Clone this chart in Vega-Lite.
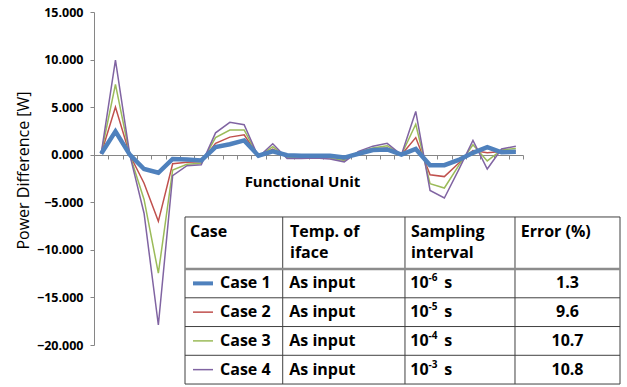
{
  "$schema": "https://vega.github.io/schema/vega-lite/v6.json",
  "autosize": {"type": "none"},
  "width": 429,
  "height": 333,
  "padding": {"left": 94, "top": 12, "right": 104, "bottom": 42},
  "background": "white",
  "config": {"view": {"stroke": null}, "font": "Open Sans"},
  "datasets": {
    "pw": [
      {"u":0,"case":"Case 1","v":0.1},{"u":1,"case":"Case 1","v":2.45},{"u":2,"case":"Case 1","v":0},{"u":3,"case":"Case 1","v":-1.5},{"u":4,"case":"Case 1","v":-1.9},{"u":5,"case":"Case 1","v":-0.45},{"u":6,"case":"Case 1","v":-0.5},{"u":7,"case":"Case 1","v":-0.6},{"u":8,"case":"Case 1","v":0.8},{"u":9,"case":"Case 1","v":1.1},{"u":10,"case":"Case 1","v":1.5},{"u":11,"case":"Case 1","v":-0.1},{"u":12,"case":"Case 1","v":0.35},{"u":13,"case":"Case 1","v":-0.05},{"u":14,"case":"Case 1","v":-0.1},{"u":15,"case":"Case 1","v":-0.1},{"u":16,"case":"Case 1","v":-0.1},{"u":17,"case":"Case 1","v":-0.3},{"u":18,"case":"Case 1","v":0.1},{"u":19,"case":"Case 1","v":0.5},{"u":20,"case":"Case 1","v":0.55},{"u":21,"case":"Case 1","v":0},{"u":22,"case":"Case 1","v":0.6},{"u":23,"case":"Case 1","v":-1.1},{"u":24,"case":"Case 1","v":-1.1},{"u":25,"case":"Case 1","v":-0.55},{"u":26,"case":"Case 1","v":0.2},{"u":27,"case":"Case 1","v":0.8},{"u":28,"case":"Case 1","v":0.25},{"u":29,"case":"Case 1","v":0.3},
      {"u":0,"case":"Case 2","v":0.1},{"u":1,"case":"Case 2","v":5.0},{"u":2,"case":"Case 2","v":0},{"u":3,"case":"Case 2","v":-3.0},{"u":4,"case":"Case 2","v":-7.0},{"u":5,"case":"Case 2","v":-0.95},{"u":6,"case":"Case 2","v":-0.8},{"u":7,"case":"Case 2","v":-0.75},{"u":8,"case":"Case 2","v":1.2},{"u":9,"case":"Case 2","v":1.85},{"u":10,"case":"Case 2","v":2.1},{"u":11,"case":"Case 2","v":-0.15},{"u":12,"case":"Case 2","v":0.6},{"u":13,"case":"Case 2","v":-0.25},{"u":14,"case":"Case 2","v":-0.2},{"u":15,"case":"Case 2","v":-0.2},{"u":16,"case":"Case 2","v":-0.25},{"u":17,"case":"Case 2","v":-0.5},{"u":18,"case":"Case 2","v":0.2},{"u":19,"case":"Case 2","v":0.6},{"u":20,"case":"Case 2","v":0.7},{"u":21,"case":"Case 2","v":0},{"u":22,"case":"Case 2","v":1.8},{"u":23,"case":"Case 2","v":-2.1},{"u":24,"case":"Case 2","v":-2.3},{"u":25,"case":"Case 2","v":-0.9},{"u":26,"case":"Case 2","v":0.45},{"u":27,"case":"Case 2","v":0.2},{"u":28,"case":"Case 2","v":0.35},{"u":29,"case":"Case 2","v":0.4},
      {"u":0,"case":"Case 3","v":0.1},{"u":1,"case":"Case 3","v":7.4},{"u":2,"case":"Case 3","v":0},{"u":3,"case":"Case 3","v":-4.7},{"u":4,"case":"Case 3","v":-12.45},{"u":5,"case":"Case 3","v":-1.6},{"u":6,"case":"Case 3","v":-1.0},{"u":7,"case":"Case 3","v":-0.9},{"u":8,"case":"Case 3","v":1.8},{"u":9,"case":"Case 3","v":2.6},{"u":10,"case":"Case 3","v":2.6},{"u":11,"case":"Case 3","v":-0.2},{"u":12,"case":"Case 3","v":0.85},{"u":13,"case":"Case 3","v":-0.3},{"u":14,"case":"Case 3","v":-0.3},{"u":15,"case":"Case 3","v":-0.3},{"u":16,"case":"Case 3","v":-0.35},{"u":17,"case":"Case 3","v":-0.6},{"u":18,"case":"Case 3","v":0.3},{"u":19,"case":"Case 3","v":0.7},{"u":20,"case":"Case 3","v":0.95},{"u":21,"case":"Case 3","v":0},{"u":22,"case":"Case 3","v":3.2},{"u":23,"case":"Case 3","v":-3.05},{"u":24,"case":"Case 3","v":-3.5},{"u":25,"case":"Case 3","v":-1.15},{"u":26,"case":"Case 3","v":1.05},{"u":27,"case":"Case 3","v":-0.65},{"u":28,"case":"Case 3","v":0.5},{"u":29,"case":"Case 3","v":0.65},
      {"u":0,"case":"Case 4","v":0.1},{"u":1,"case":"Case 4","v":9.95},{"u":2,"case":"Case 4","v":0},{"u":3,"case":"Case 4","v":-6.15},{"u":4,"case":"Case 4","v":-17.9},{"u":5,"case":"Case 4","v":-2.2},{"u":6,"case":"Case 4","v":-1.15},{"u":7,"case":"Case 4","v":-1.05},{"u":8,"case":"Case 4","v":2.3},{"u":9,"case":"Case 4","v":3.4},{"u":10,"case":"Case 4","v":3.15},{"u":11,"case":"Case 4","v":-0.25},{"u":12,"case":"Case 4","v":1.15},{"u":13,"case":"Case 4","v":-0.4},{"u":14,"case":"Case 4","v":-0.4},{"u":15,"case":"Case 4","v":-0.35},{"u":16,"case":"Case 4","v":-0.45},{"u":17,"case":"Case 4","v":-0.75},{"u":18,"case":"Case 4","v":0.35},{"u":19,"case":"Case 4","v":0.9},{"u":20,"case":"Case 4","v":1.2},{"u":21,"case":"Case 4","v":0},{"u":22,"case":"Case 4","v":4.55},{"u":23,"case":"Case 4","v":-3.75},{"u":24,"case":"Case 4","v":-4.55},{"u":25,"case":"Case 4","v":-1.6},{"u":26,"case":"Case 4","v":1.5},{"u":27,"case":"Case 4","v":-1.5},{"u":28,"case":"Case 4","v":0.6},{"u":29,"case":"Case 4","v":0.9}
    ],
    "tbl": [
      {"row":1,"case":"Case 1","temp":"As input","exp":"-6","err":"1.3"},
      {"row":2,"case":"Case 2","temp":"As input","exp":"-5","err":"9.6"},
      {"row":3,"case":"Case 3","temp":"As input","exp":"-4","err":"10.7"},
      {"row":4,"case":"Case 4","temp":"As input","exp":"-3","err":"10.8"}
    ],
    "one": [{}]
  },
  "layer": [
    {
      "data": {"name": "pw"},
      "encoding": {
        "x": {"field": "u", "type": "quantitative",
          "scale": {"domain": [-0.5, 29.5], "nice": false, "zero": false},
          "axis": {"orient": "bottom", "offset": -190, "values": [-0.5,0.5,1.5,2.5,3.5,4.5,5.5,6.5,7.5,8.5,9.5,10.5,11.5,12.5,13.5,14.5,15.5,16.5,17.5,18.5,19.5,20.5,21.5,22.5,23.5,24.5,25.5,26.5,27.5,28.5,29.5],
            "labels": false, "grid": false, "tickSize": 4, "tickColor": "#868686", "domainColor": "#868686",
            "title": "Functional Unit", "titleFont": "Open Sans", "titleFontSize": 15, "titleFontWeight": "bold", "titleColor": "black", "titlePadding": 15, "titleX": 208}},
        "y": {"field": "v", "type": "quantitative",
          "scale": {"domain": [-20, 15], "nice": false, "zero": false},
          "axis": {"values": [-20,-15,-10,-5,0,5,10,15], "format": ".3f", "grid": false,
            "tickSize": 4, "tickColor": "#868686", "domainColor": "#868686",
            "labelFont": "Open Sans", "labelFontSize": 12.5, "labelFontWeight": "bold", "labelColor": "black", "labelPadding": 7,
            "title": "Power Difference [W]", "titleFont": "Open Sans", "titleFontSize": 16, "titleFontWeight": "normal", "titleColor": "black", "titlePadding": 5, "titleY": 158}},
        "color": {"field": "case", "type": "nominal",
          "scale": {"domain": ["Case 1","Case 2","Case 3","Case 4"], "range": ["#4F81BD","#C0504D","#9BBB59","#8064A2"]},
          "legend": null}
      },
      "layer": [
        {"transform": [{"filter": "datum.case != 'Case 1'"}], "mark": {"type": "line", "strokeWidth": 1.5}},
        {"transform": [{"filter": "datum.case == 'Case 1'"}], "mark": {"type": "line", "strokeWidth": 4.5}}
      ]
    },
    {
      "layer": [
        {"data": {"name": "one"}, "mark": {"type": "rect", "fill": "white", "stroke": "#404040", "strokeWidth": 1},
          "encoding": {
            "x": {"datum": 0, "type": "quantitative", "scale": {"domain": [-20.92, 77.70], "nice": false, "zero": false}, "axis": null},
            "x2": {"datum": 100},
            "y": {"datum": -1.31, "type": "quantitative", "scale": {"domain": [-8.439, 3.143], "reverse": true, "nice": false, "zero": false}, "axis": null},
            "y2": {"datum": 4.5}}},
        {"data": {"name": "one"}, "mark": {"type": "rule", "stroke": "#404040", "strokeWidth": 1},
          "encoding": {"x": {"datum": 22.46, "type": "quantitative", "axis": null}, "y": {"datum": -1.31, "type": "quantitative", "axis": null}, "y2": {"datum": 4.5}}},
        {"data": {"name": "one"}, "mark": {"type": "rule", "stroke": "#404040", "strokeWidth": 1},
          "encoding": {"x": {"datum": 50.57, "type": "quantitative", "axis": null}, "y": {"datum": -1.31, "type": "quantitative", "axis": null}, "y2": {"datum": 4.5}}},
        {"data": {"name": "one"}, "mark": {"type": "rule", "stroke": "#404040", "strokeWidth": 1},
          "encoding": {"x": {"datum": 75.86, "type": "quantitative", "axis": null}, "y": {"datum": -1.31, "type": "quantitative", "axis": null}, "y2": {"datum": 4.5}}},
        {"data": {"name": "one"}, "mark": {"type": "rule", "stroke": "#8c8c8c", "strokeWidth": 2.5},
          "encoding": {"x": {"datum": 0, "type": "quantitative", "axis": null}, "x2": {"datum": 100}, "y": {"datum": 0.5, "type": "quantitative", "axis": null}}},
        {"data": {"name": "tbl"}, "transform": [{"filter": "datum.row < 4"}], "mark": {"type": "rule", "stroke": "#404040", "strokeWidth": 1},
          "encoding": {"x": {"datum": 0, "type": "quantitative", "axis": null}, "x2": {"datum": 100}, "y": {"field": "row", "type": "quantitative", "axis": null}, "yOffset": {"value": 14.4}}},
        {"data": {"name": "tbl"}, "mark": {"type": "rule"},
          "encoding": {"x": {"datum": 1.84, "type": "quantitative", "axis": null}, "x2": {"datum": 6.44},
            "y": {"field": "row", "type": "quantitative", "axis": null},
            "color": {"field": "case", "type": "nominal", "legend": null},
            "strokeWidth": {"condition": {"test": "datum.case == 'Case 1'", "value": 4}, "value": 1.5}}},
        {"data": {"name": "tbl"}, "mark": {"type": "text", "font": "Open Sans", "fontSize": 16, "fontWeight": "bold", "align": "left", "baseline": "middle", "color": "black"},
          "encoding": {"x": {"datum": 8.05, "type": "quantitative", "axis": null}, "y": {"field": "row", "type": "quantitative", "axis": null}, "text": {"field": "case"}}},
        {"data": {"name": "tbl"}, "mark": {"type": "text", "font": "Open Sans", "fontSize": 16, "fontWeight": "bold", "align": "left", "baseline": "middle", "color": "black"},
          "encoding": {"x": {"datum": 23.98, "type": "quantitative", "axis": null}, "y": {"field": "row", "type": "quantitative", "axis": null}, "text": {"field": "temp"}}},
        {"data": {"name": "tbl"}, "mark": {"type": "text", "font": "Open Sans", "fontSize": 16, "fontWeight": "bold", "align": "left", "baseline": "middle", "color": "black", "text": "10"},
          "encoding": {"x": {"datum": 51.8, "type": "quantitative", "axis": null}, "y": {"field": "row", "type": "quantitative", "axis": null}}},
        {"data": {"name": "tbl"}, "mark": {"type": "text", "font": "Open Sans", "fontSize": 10, "fontWeight": "bold", "align": "left", "baseline": "middle", "color": "black", "dy": -5},
          "encoding": {"x": {"datum": 56.0, "type": "quantitative", "axis": null}, "y": {"field": "row", "type": "quantitative", "axis": null}, "text": {"field": "exp"}}},
        {"data": {"name": "tbl"}, "mark": {"type": "text", "font": "Open Sans", "fontSize": 16, "fontWeight": "bold", "align": "left", "baseline": "middle", "color": "black", "text": "s"},
          "encoding": {"x": {"datum": 59.6, "type": "quantitative", "axis": null}, "y": {"field": "row", "type": "quantitative", "axis": null}}},
        {"data": {"name": "tbl"}, "mark": {"type": "text", "font": "Open Sans", "fontSize": 16, "fontWeight": "bold", "align": "center", "baseline": "middle", "color": "black"},
          "encoding": {"x": {"datum": 87.93, "type": "quantitative", "axis": null}, "y": {"field": "row", "type": "quantitative", "axis": null}, "text": {"field": "err"}}},
        {"data": {"name": "one"}, "mark": {"type": "text", "font": "Open Sans", "fontSize": 16, "fontWeight": "bold", "align": "left", "baseline": "middle", "color": "black", "text": "Case"},
          "encoding": {"x": {"datum": 1.15, "type": "quantitative", "axis": null}, "y": {"datum": -0.787, "type": "quantitative", "axis": null}}},
        {"data": {"name": "one"}, "mark": {"type": "text", "font": "Open Sans", "fontSize": 16, "fontWeight": "bold", "align": "left", "baseline": "middle", "color": "black", "text": "Temp. of"},
          "encoding": {"x": {"datum": 24.14, "type": "quantitative", "axis": null}, "y": {"datum": -0.787, "type": "quantitative", "axis": null}}},
        {"data": {"name": "one"}, "mark": {"type": "text", "font": "Open Sans", "fontSize": 16, "fontWeight": "bold", "align": "left", "baseline": "middle", "color": "black", "text": "iface"},
          "encoding": {"x": {"datum": 24.14, "type": "quantitative", "axis": null}, "y": {"datum": -0.057, "type": "quantitative", "axis": null}}},
        {"data": {"name": "one"}, "mark": {"type": "text", "font": "Open Sans", "fontSize": 16, "fontWeight": "bold", "align": "left", "baseline": "middle", "color": "black", "text": "Sampling"},
          "encoding": {"x": {"datum": 51.95, "type": "quantitative", "axis": null}, "y": {"datum": -0.787, "type": "quantitative", "axis": null}}},
        {"data": {"name": "one"}, "mark": {"type": "text", "font": "Open Sans", "fontSize": 16, "fontWeight": "bold", "align": "left", "baseline": "middle", "color": "black", "text": "interval"},
          "encoding": {"x": {"datum": 51.95, "type": "quantitative", "axis": null}, "y": {"datum": -0.057, "type": "quantitative", "axis": null}}},
        {"data": {"name": "one"}, "mark": {"type": "text", "font": "Open Sans", "fontSize": 16, "fontWeight": "bold", "align": "left", "baseline": "middle", "color": "black", "text": "Error (%)"},
          "encoding": {"x": {"datum": 77.17, "type": "quantitative", "axis": null}, "y": {"datum": -0.787, "type": "quantitative", "axis": null}}}
      ]
    }
  ],
  "resolve": {"scale": {"x": "independent", "y": "independent"}}
}
